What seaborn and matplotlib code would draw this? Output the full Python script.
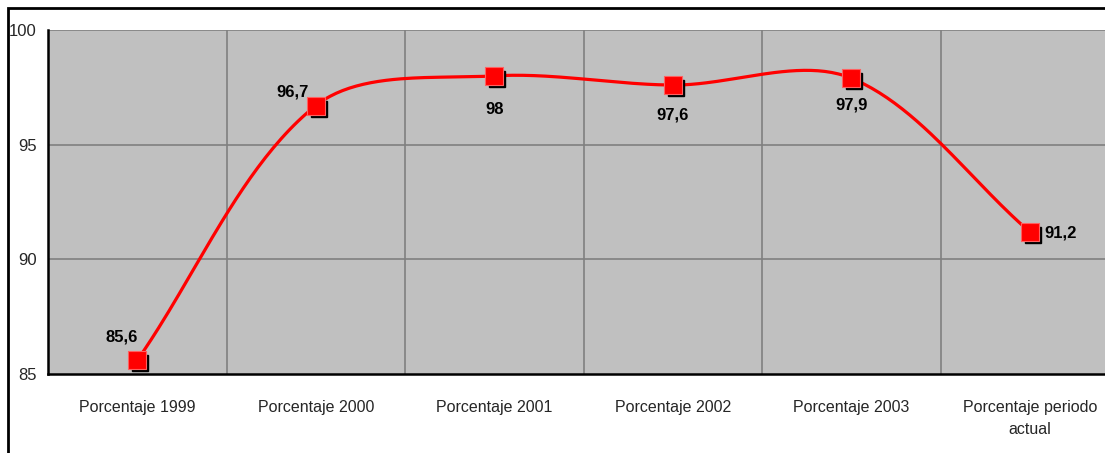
import numpy as np
import pandas as pd
import matplotlib
matplotlib.use("Agg")
import matplotlib.pyplot as plt
import matplotlib.transforms as mtransforms
from matplotlib.patches import Rectangle
import seaborn as sns

categories = ["Porcentaje 1999", "Porcentaje 2000", "Porcentaje 2001",
              "Porcentaje 2002", "Porcentaje 2003", "Porcentaje periodo\nactual"]
values = [85.6, 96.7, 98.0, 97.6, 97.9, 91.2]
labels = ["85,6", "96,7", "98", "97,6", "97,9", "91,2"]
y_ticks = [85, 90, 95, 100]


def smooth_curve(ax, x, y, n=50):
    # spreadsheet-style smoothed line: bezier segments built in screen space
    P = ax.transData.transform(np.column_stack([x, y]).astype(float))
    N = len(P)
    out = []
    t = np.linspace(0, 1, n)[:, None]
    for i in range(N - 1):
        p1, p2 = P[i], P[i + 1]
        p0 = P[i - 1] if i > 0 else p1
        p3 = P[i + 2] if i + 2 < N else p2
        d01 = np.linalg.norm(p1 - p0)
        d12 = np.linalg.norm(p2 - p1)
        d23 = np.linalg.norm(p3 - p2)
        c1 = p1 + (p2 - p0) / 6 * (2 * d12 / (d01 + d12))
        c2 = p2 - (p3 - p1) / 6 * (2 * d12 / (d12 + d23))
        seg = (1 - t) ** 3 * p1 + 3 * (1 - t) ** 2 * t * c1 + 3 * (1 - t) * t ** 2 * c2 + t ** 3 * p2
        out.append(seg)
    pts = ax.transData.inverted().transform(np.vstack(out))
    return pd.DataFrame({"x": pts[:, 0], "y": pts[:, 1]})


sns.set_style("white")
plt.rcParams['font.family'] = ['Liberation Sans', 'DejaVu Sans']

fig = plt.figure(figsize=(11.05, 4.53), dpi=100)
ax = fig.add_axes([48 / 1105, 1 - 374 / 453, (1119 - 48) / 1105, (374 - 30) / 453])
ax.set_facecolor("#c0c0c0")
ax.set_xlim(-0.5, 5.5)
ax.set_ylim(85, 100)

xpos = np.arange(len(values))
curve = smooth_curve(ax, xpos, values)
sns.lineplot(data=curve, x="x", y="y", ax=ax, color="#ff0000", linewidth=2.3,
             sort=False, estimator=None, zorder=3)

shadow = mtransforms.offset_copy(ax.transData, fig=fig, x=3, y=-3, units="dots")
ax.plot(xpos, values, "s", color="black", markersize=12, transform=shadow, zorder=4)
sns.scatterplot(x=xpos, y=values, ax=ax, marker="s", s=150, color="#ff0000",
                edgecolor="#ff6060", linewidth=0.8, zorder=5)

offsets = [(-11, 17), (-17, 10), (0, -24), (0, -21.5), (0, -19.5), (22.5, -1)]
for x, v, lab, off in zip(xpos, values, labels, offsets):
    ax.annotate(lab, (x, v), xytext=off, textcoords="offset points", ha="center", va="center",
                fontsize=12, fontweight="bold", color="black", zorder=6)

ax.set_yticks(y_ticks)
ax.set_yticklabels([str(t) for t in y_ticks], fontsize=12)
ax.set_xticks(xpos)
ax.set_xticklabels(categories, fontsize=11.5, linespacing=1.55)
ax.set_xticks(np.arange(0.5, 5.5, 1), minor=True)
ax.tick_params(axis="x", which="major", length=0, pad=19)
ax.tick_params(axis="x", which="minor", length=5, width=1.2, color="black", direction="out")
ax.tick_params(axis="y", length=5, width=1.2, color="black", direction="out", pad=3)

for yv in y_ticks[1:]:
    ax.axhline(yv, color="#808080", linewidth=1.2, zorder=1)
for xv in np.arange(0.5, 5.5, 1):
    ax.axvline(xv, color="#808080", linewidth=1.2, zorder=1)

for side in ["top", "right"]:
    ax.spines[side].set_visible(False)
for side in ["left", "bottom"]:
    ax.spines[side].set_color("black")
    ax.spines[side].set_linewidth(1.8)
ax.set_xlabel("")
ax.set_ylabel("")

fig.patches.append(Rectangle((8 / 1105, -0.05), 1.2, 1 - 8 / 453 + 0.05, transform=fig.transFigure,
                             fill=False, edgecolor="black", linewidth=2))

fig.savefig("out.png", dpi=100)
